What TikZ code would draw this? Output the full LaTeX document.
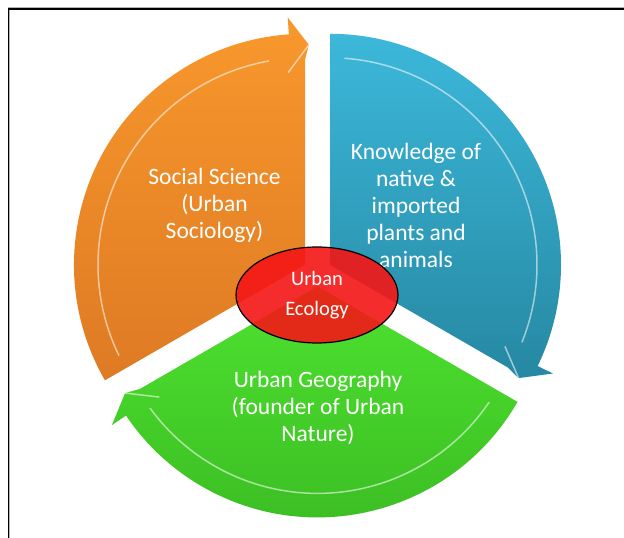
\documentclass[tikz,border=0pt]{standalone}
\usepackage{fontspec}
\setmainfont{Carlito}
\usetikzlibrary{shapes.geometric}

\definecolor{orangetop}{RGB}{248,152,44}
\definecolor{orangebot}{RGB}{222,122,36}
\definecolor{bluetop}{RGB}{60,184,218}
\definecolor{bluebot}{RGB}{38,136,162}
\definecolor{greentop}{RGB}{78,226,48}
\definecolor{greenbot}{RGB}{58,186,34}
\definecolor{hubred}{RGB}{244,22,22}

\begin{document}
\begin{tikzpicture}[x=1pt, y=1pt,
                    orange_seg/.style={top color=orangetop, bottom color=orangebot},
                    blue_seg/.style={top color=bluetop, bottom color=bluebot},
                    green_seg/.style={top color=greentop, bottom color=greenbot},
                    shine/.style={draw=white, opacity=0.55, line width=1.5pt},
                    seg_text/.style={text=white, align=center, font=\fontsize{23.5}{27}\selectfont},
                    hub_node/.style={ellipse, draw=black, line width=1.2pt, fill=hubred, fill opacity=0.9,
                                     text opacity=1, text=white, align=center, minimum width=162pt,
                                     minimum height=96pt, font=\fontsize{20.5}{30}\selectfont}
                ]
                    \useasboundingbox (0,0) rectangle (624,538);
                    \fill[white] (0,0) rectangle (624,538);
                    \draw[gray!60, line width=0.8pt] (8,530.7) -- (624,530.7);
                    \draw[gray!60, line width=0.8pt] (9.8,527.5) -- (9.8,0);
                    \draw[black, line width=1.2pt] (8.3,0) -- (8.3,529) -- (624,529);

                    \begin{scope}[shift={(305,273.2)}]
                        \shade[orange_seg] (0,0) -- (210:231) arc[start angle=210, end angle=94, radius=231]
                            -- (94:248) -- (89:220) -- (90:205) -- cycle;
                        \draw[shine] (206:207) arc[start angle=206, end angle=100, radius=207];
                        \draw[shine] (89:220) -- (95:193);
                    \end{scope}
                    \begin{scope}[shift={(330,273.2)}]
                        \shade[blue_seg] (0,0) -- (90:231) arc[start angle=90, end angle=-26, radius=231]
                            -- (-26:248) -- (-31:220) -- (-30:205) -- cycle;
                        \draw[shine] (86:207) arc[start angle=86, end angle=-22, radius=207];
                        \draw[shine] (-31:220) -- (-25:193);
                    \end{scope}
                    \begin{scope}[shift={(317.5,251.6)}]
                        \shade[green_seg] (0,0) -- (330:231) arc[start angle=330, end angle=214, radius=231]
                            -- (214:248) -- (209:220) -- (210:205) -- cycle;
                        \draw[shine] (326:207) arc[start angle=326, end angle=216, radius=207];
                        \draw[shine] (209:220) -- (215:193);
                    \end{scope}

                    \node[seg_text] (social) at (214.5,333) {Social Science\\(Urban\\Sociology)};
                    \node[seg_text] (knowledge) at (416,333) {Knowledge of\\native \&\\imported\\plants and\\animals};
                    \node[seg_text] (geography) at (318,130) {Urban Geography\\(founder of Urban\\Nature)};
                    \node[hub_node] (ecology) at (317,243) {Urban\\Ecology};
                \end{tikzpicture}
\end{document}
